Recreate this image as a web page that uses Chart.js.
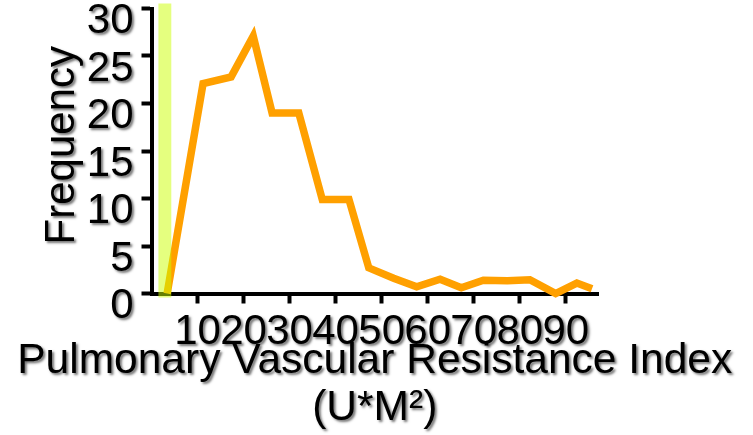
<!DOCTYPE html>
<html>
<head>
<meta charset="utf-8">
<script src="https://cdn.jsdelivr.net/npm/chart.js@4/dist/chart.umd.min.js"></script>
<style>
  html, body { margin: 0; padding: 0; background: #fff; }
  canvas { display: block; }
</style>
</head>
<body>
<canvas id="myChart" width="753" height="435"></canvas>
<script>
// values
const xValues = [3.4, 11.2, 17.3, 22.1, 26.2, 32.0, 37.1, 42.9, 47.2, 52.6, 57.6, 62.7, 67.3, 72.1, 77.3, 82.2, 87.8, 92.4, 95.7];
const frequency = [0, 22.1, 22.8, 27.1, 19.0, 19.0, 9.9, 9.9, 2.7, 1.6, 0.7, 1.5, 0.6, 1.4, 1.35, 1.45, 0, 1.1, 0.5];
const xTickLabels = [10, 20, 30, 40, 50, 60, 70, 80, 90];
const bandRange = [1.5, 4.3];
const xTitle = ["Pulmonary Vascular Resistance Index", "(U*M²)"];
const yTitle = " Frequency";

const ctx = document.getElementById("myChart");
const FONT = "'Liberation Sans', Arial, sans-serif";

//text gets a soft grey shadow, lines do not; long titles are not squeezed
const textShadow = {
  id: "textShadow",
  beforeInit(chart) {
    const c = chart.ctx;
    const orig = c.fillText.bind(c);
    c.fillText = function (text, x, y) {
      c.save();
      c.shadowColor = "rgba(0,0,0,0.55)";
      c.shadowOffsetX = 2;
      c.shadowOffsetY = 2;
      c.shadowBlur = 2.5;
      orig(text, x, y);
      c.restore();
    };
  },
};

//translucent highlight band over the plot
const band = {
  id: "band",
  afterDatasetsDraw(chart) {
    const c = chart.ctx;
    const x = chart.scales.x;
    const area = chart.chartArea;
    const x1 = x.getPixelForValue(bandRange[0]);
    const x2 = x.getPixelForValue(bandRange[1]);
    c.save();
    c.fillStyle = "rgba(204,255,0,0.5)";
    c.fillRect(x1, area.top - 5, x2 - x1, area.bottom - area.top + 9);
    c.restore();
  },
};

new Chart(ctx, {
  type: "line",
  data: {
    datasets: [
      {
        data: xValues.map(function (v, i) {
          return { x: v, y: frequency[i] };
        }),
        borderColor: "#ffa000",
        borderWidth: 7.5,
        pointRadius: 0,
        tension: 0,
        fill: false,
        clip: false,
      },
    ],
  },
  plugins: [textShadow, band],
  options: {
    responsive: false,
    animation: false,
    layout: { padding: { top: 8.5, right: 155, left: 0, bottom: 0 } },
    plugins: { legend: { display: false }, tooltip: { enabled: false } },
    scales: {
      x: {
        type: "linear",
        min: 0,
        max: 97,
        afterBuildTicks(axis) {
          axis.ticks = xTickLabels.map(function (v) {
            return { value: v };
          });
        },
        afterFit(scale) {
          scale.height = 141.5;
          scale.paddingLeft = 0;
          scale.paddingRight = 0;
        },
        border: { display: true, color: "#000", width: 4 },
        grid: { drawOnChartArea: false, drawTicks: true, tickLength: 10, tickWidth: 4, tickColor: "#000" },
        ticks: {
          autoSkip: false,
          maxRotation: 0,
          minRotation: 0,
          padding: 4,
          color: "#000",
          font: { family: FONT, size: 42 },
        },
        title: {
          display: true,
          text: xTitle,
          color: "#000",
          font: { family: FONT, size: 42.5, lineHeight: 1.11 },
          padding: { top: 0, bottom: 3 },
        },
      },
      y: {
        min: 0,
        max: 30,
        ticks: {
          stepSize: 5,
          autoSkip: false,
          padding: 8,
          labelOffset: 13,
          color: "#000",
          font: { family: FONT, size: 42 },
        },
        afterFit(scale) {
          scale.width = 151.5;
          scale.paddingTop = 0;
          scale.paddingBottom = 0;
        },
        border: { display: true, color: "#000", width: 4 },
        grid: { drawOnChartArea: false, drawTicks: true, tickLength: 10, tickWidth: 4, tickColor: "#000" },
        title: {
          display: true,
          text: yTitle,
          color: "#000",
          font: { family: FONT, size: 42, lineHeight: 1.12 },
          padding: { top: 39, bottom: 0 },
        },
      },
    },
  },
});
</script>
</body>
</html>
